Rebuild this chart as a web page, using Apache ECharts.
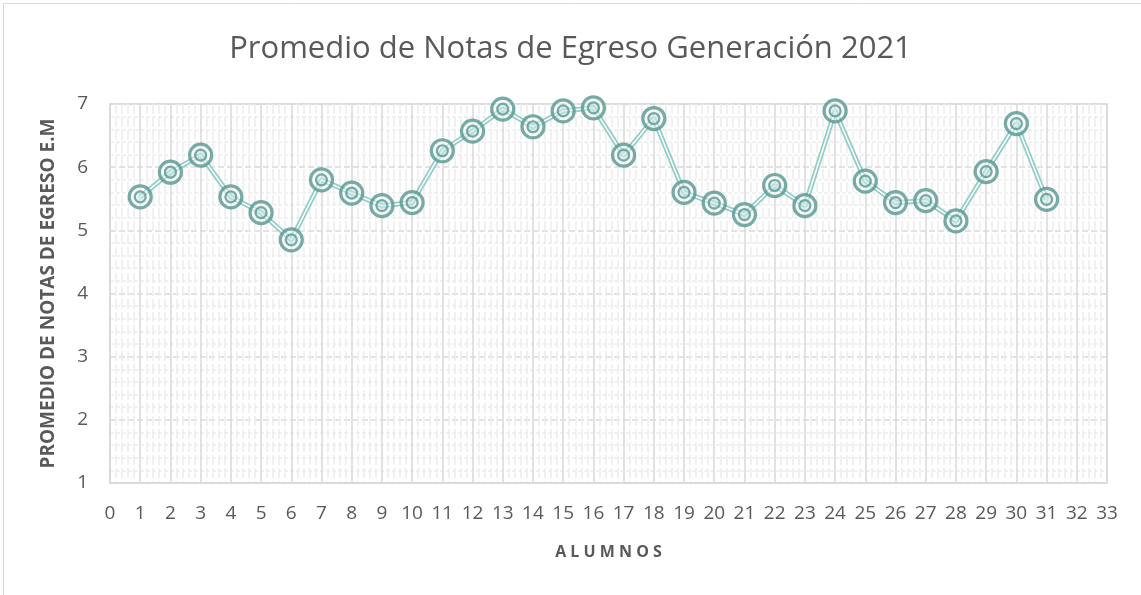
<!DOCTYPE html>
<html>
<head>
<meta charset="utf-8">
<title>Promedio de Notas de Egreso</title>
<script src="https://cdn.jsdelivr.net/npm/echarts@6/dist/echarts.min.js"></script>
<style>
  html, body { margin: 0; padding: 0; background: #fff; }
  #chart { width: 1141px; height: 595px; }
</style>
</head>
<body>
<div id="chart"></div>
<script>
// alumnos 1..31 y su promedio de notas
const alumnos = [1, 2, 3, 4, 5, 6, 7, 8, 9, 10, 11, 12, 13, 14, 15, 16, 17, 18, 19, 20, 21, 22, 23, 24, 25, 26, 27, 28, 29, 30, 31];
const promedios = [5.53, 5.92, 6.19, 5.53, 5.28, 4.85, 5.80, 5.59, 5.39, 5.44, 6.26, 6.57, 6.92, 6.64, 6.89, 6.94, 6.19, 6.77, 5.60, 5.43, 5.25, 5.71, 5.39, 6.89, 5.78, 5.44, 5.47, 5.15, 5.93, 6.69, 5.49];

const titulo = 'Promedio de Notas de Egreso Generación 2021';
const nombreY = 'PROMEDIO DE NOTAS DE EGRESO E.M';
const nombreX = 'A L U M N O S';

const puntos = alumnos.map((a, i) => [a, promedios[i]]);

const gris = '#595959';
const teal = '#55968f';
const tealClaro = '#93cdc9';

const chart = echarts.init(document.getElementById('chart'), null, { renderer: 'canvas' });

chart.setOption({
  animation: false,
  backgroundColor: '#fff',
  title: {
    text: titulo,
    left: 'center',
    top: 29,
    textStyle: { fontFamily: 'Open Sans', fontWeight: 'normal', fontSize: 31, color: gris }
  },
  graphic: [{
    type: 'rect',
    shape: { x: 3.5, y: 3.5, width: 1200, height: 700 },
    style: { fill: 'none', stroke: '#d9d9d9', lineWidth: 1 },
    silent: true
  }],
  grid: {
    left: 110, right: 34, top: 104, bottom: 112,
    show: true, borderColor: '#d9d9d9', borderWidth: 1.5
  },
  xAxis: {
    type: 'value',
    min: 0, max: 33, interval: 1,
    name: nombreX,
    nameLocation: 'middle',
    nameGap: 61,
    nameTextStyle: { fontFamily: 'Open Sans', fontWeight: 'bold', fontSize: 16, color: gris },
    axisLine: { show: true, lineStyle: { color: '#d9d9d9', width: 1.5 } },
    axisTick: { show: false },
    axisLabel: { fontFamily: 'Open Sans', fontSize: 19, color: gris, margin: 21 },
    splitLine: { show: true, lineStyle: { color: '#d9d9d9', width: 1.5 } },
    minorTick: { show: false, splitNumber: 5 },
    minorSplitLine: { show: true, lineStyle: { color: '#ededed', width: 1.5, type: [10, 3] } }
  },
  yAxis: {
    type: 'value',
    min: 1, max: 7, interval: 1,
    name: nombreY,
    nameLocation: 'middle',
    nameGap: 52,
    nameTextStyle: { fontFamily: 'Open Sans', fontWeight: 'bold', fontSize: 19, color: gris },
    axisLine: { show: true, lineStyle: { color: '#d9d9d9', width: 1.5 } },
    axisTick: { show: false },
    axisLabel: { fontFamily: 'Open Sans', fontSize: 19, color: gris, margin: 22 },
    splitLine: { show: true, lineStyle: { color: '#d9d9d9', width: 1.5, type: [6, 3] } },
    minorTick: { show: false, splitNumber: 5 },
    minorSplitLine: { show: true, lineStyle: { color: '#ededed', width: 1.5, type: [4, 2] } }
  },
  series: [
    {
      type: 'line',
      data: puntos,
      symbol: 'none',
      lineStyle: { color: tealClaro, width: 5 },
      z: 3
    },
    {
      type: 'line',
      data: puntos,
      symbol: 'none',
      lineStyle: { color: '#ffffff', width: 1.5 },
      z: 4
    },
    {
      type: 'scatter',
      data: puntos,
      symbol: 'circle',
      symbolSize: 22,
      itemStyle: { color: 'rgba(255,255,255,0.55)', borderColor: teal, borderWidth: 3.2 },
      z: 5
    },
    {
      type: 'scatter',
      data: puntos,
      symbol: 'circle',
      symbolSize: 11,
      itemStyle: { color: 'rgba(147,205,201,0.35)', borderColor: teal, borderWidth: 2.2 },
      z: 6
    }
  ]
});
</script>
</body>
</html>
